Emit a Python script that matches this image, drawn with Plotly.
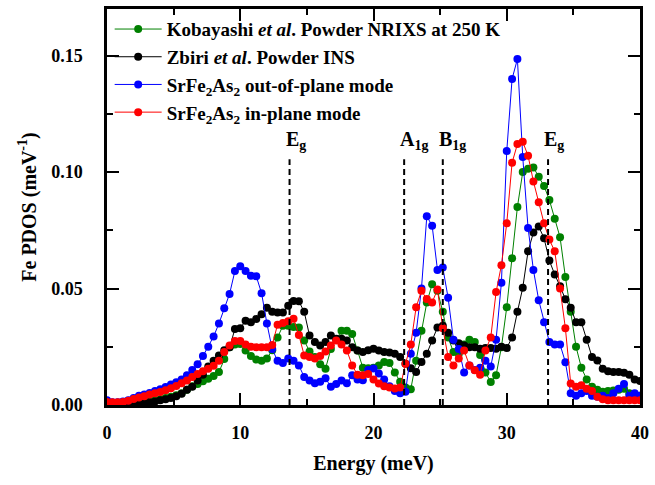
import plotly.graph_objects as go

# Energy grid (meV), 0.4 meV step, 0..40
energy = [round(0.4 * i, 1) for i in range(101)]

kobayashi_nrixs = [
    0.0005, 0.0005, 0.0005, 0.0006, 0.0008, 0.0010, 0.0012, 0.0015, 0.0018, 0.0020,
    0.0025, 0.0030, 0.0035, 0.0042, 0.0050, 0.0065, 0.0080, 0.0090, 0.0102, 0.0113,
    0.0125, 0.0142, 0.0198, 0.0248, 0.0260, 0.0262, 0.0234, 0.0210, 0.0195, 0.0190,
    0.0200, 0.0235, 0.0290, 0.0340, 0.0340, 0.0335, 0.0333, 0.0277, 0.0230, 0.0206,
    0.0175, 0.0156, 0.0240, 0.0280, 0.0319, 0.0319, 0.0305, 0.0234, 0.0160, 0.0158,
    0.0160, 0.0170, 0.0185, 0.0180, 0.0140, 0.0100, 0.0075, 0.0068, 0.0190, 0.0319,
    0.0440, 0.0518, 0.0490, 0.0400, 0.0290, 0.0227, 0.0220, 0.0260, 0.0280, 0.0270,
    0.0215, 0.0140, 0.0099, 0.0128, 0.0248, 0.0420, 0.0630, 0.0850, 0.1000, 0.1014,
    0.1020, 0.0980, 0.0940, 0.0880, 0.0800, 0.0720, 0.0550, 0.0400, 0.0250, 0.0160,
    0.0110, 0.0078, 0.0065, 0.0057, 0.0060, 0.0062, 0.0065, 0.0070, 0.0050, 0.0040,
    0.0040,
]

zbiri_ins = [
    0.0002, 0.0002, 0.0002, 0.0003, 0.0004, 0.0005, 0.0007, 0.0009, 0.0012, 0.0015,
    0.0020, 0.0025, 0.0030, 0.0038, 0.0048, 0.0065, 0.0078, 0.0105, 0.0130, 0.0165,
    0.0190, 0.0213, 0.0235, 0.0248, 0.0326, 0.0330, 0.0362, 0.0355, 0.0369, 0.0390,
    0.0418, 0.0400, 0.0397, 0.0397, 0.0426, 0.0447, 0.0445, 0.0400, 0.0298, 0.0270,
    0.0255, 0.0270, 0.0298, 0.0284, 0.0284, 0.0277, 0.0248, 0.0234, 0.0227, 0.0235,
    0.0241, 0.0234, 0.0228, 0.0225, 0.0220, 0.0206, 0.0177, 0.0158, 0.0142, 0.0185,
    0.0220, 0.0277, 0.0333, 0.0340, 0.0310, 0.0277, 0.0265, 0.0255, 0.0248, 0.0248,
    0.0242, 0.0245, 0.0245, 0.0241, 0.0250, 0.0245, 0.0290, 0.0400, 0.0503, 0.0660,
    0.0740, 0.0766, 0.0716, 0.0620, 0.0560, 0.0510, 0.0454, 0.0418, 0.0355, 0.0355,
    0.0280, 0.0206, 0.0191, 0.0156, 0.0145, 0.0142, 0.0142, 0.0138, 0.0130, 0.0110,
    0.0103,
]

out_of_plane = [
    0.0020, 0.0012, 0.0012, 0.0015, 0.0020, 0.0030, 0.0040, 0.0045, 0.0052, 0.0060,
    0.0068, 0.0077, 0.0088, 0.0098, 0.0110, 0.0128, 0.0150, 0.0175, 0.0210, 0.0250,
    0.0294, 0.0350, 0.0415, 0.0477, 0.0575, 0.0596, 0.0575, 0.0555, 0.0553, 0.0480,
    0.0350, 0.0240, 0.0190, 0.0180, 0.0200, 0.0190, 0.0170, 0.0120, 0.0105, 0.0093,
    0.0100, 0.0115, 0.0078, 0.0090, 0.0105, 0.0093, 0.0128, 0.0110, 0.0106, 0.0150,
    0.0157, 0.0135, 0.0110, 0.0080, 0.0060, 0.0050, 0.0057, 0.0220, 0.0310, 0.0500,
    0.0810, 0.0770, 0.0580, 0.0590, 0.0460, 0.0280, 0.0240, 0.0140, 0.0170, 0.0150,
    0.0160, 0.0190, 0.0165, 0.0280, 0.0525, 0.1090, 0.1400, 0.1485, 0.1065, 0.0760,
    0.0580, 0.0450, 0.0355, 0.0270, 0.0260, 0.0260, 0.0184, 0.0050, 0.0040, 0.0050,
    0.0060, 0.0040, 0.0035, 0.0040, 0.0030, 0.0050, 0.0070, 0.0090, 0.0040, 0.0050,
    0.0040,
]

in_plane = [
    0.0013, 0.0012, 0.0012, 0.0013, 0.0018, 0.0026, 0.0032, 0.0038, 0.0045, 0.0050,
    0.0056, 0.0063, 0.0072, 0.0082, 0.0093, 0.0105, 0.0120, 0.0133, 0.0145, 0.0156,
    0.0168, 0.0190, 0.0227, 0.0255, 0.0275, 0.0275, 0.0260, 0.0250, 0.0248, 0.0248,
    0.0248, 0.0258, 0.0345, 0.0352, 0.0360, 0.0370, 0.0300, 0.0213, 0.0206, 0.0200,
    0.0210, 0.0230, 0.0255, 0.0277, 0.0260, 0.0234, 0.0170, 0.0130, 0.0128, 0.0133,
    0.0110, 0.0092, 0.0080, 0.0075, 0.0071, 0.0075, 0.0177, 0.0260, 0.0420, 0.0490,
    0.0455, 0.0440, 0.0496, 0.0330, 0.0206, 0.0170, 0.0200, 0.0234, 0.0170, 0.0149,
    0.0130, 0.0234, 0.0290, 0.0485, 0.0600, 0.0780, 0.1040, 0.1120, 0.1130, 0.1070,
    0.0960, 0.0870, 0.0780, 0.0710, 0.0660, 0.0500, 0.0330, 0.0092, 0.0078, 0.0085,
    0.0070, 0.0060, 0.0035, 0.0025, 0.0020, 0.0020, 0.0020, 0.0020, 0.0020, 0.0020,
    0.0020,
]

series_names = [
    "<b>Kobayashi <i>et al</i>. Powder NRIXS at 250 K</b>",
    "<b>Zbiri <i>et al</i>. Powder INS</b>",
    "<b>SrFe<sub>2</sub>As<sub>2</sub> out-of-plane mode</b>",
    "<b>SrFe<sub>2</sub>As<sub>2</sub> in-plane mode</b>",
]
series_values = [kobayashi_nrixs, zbiri_ins, out_of_plane, in_plane]
series_colors = ["#008000", "#000000", "#0000ff", "#ff0000"]

mode_energies = [13.7, 22.3, 25.2, 33.1]
mode_labels = ["E<sub>g</sub>", "A<sub>1g</sub>", "B<sub>1g</sub>", "E<sub>g</sub>"]
mode_line_top = 0.1055

x_ticks = [0, 10, 20, 30, 40]
y_ticks = [0.00, 0.05, 0.10, 0.15]

FONT = "Times New Roman, Liberation Serif, serif"

fig = go.Figure()
for name, vals, col in zip(series_names, series_values, series_colors):
    fig.add_trace(go.Scatter(
        x=energy, y=vals, name=name, mode="lines+markers",
        line=dict(color=col, width=1),
        marker=dict(color=col, size=8, symbol="circle"),
    ))

for e, lab in zip(mode_energies, mode_labels):
    fig.add_shape(type="line", xref="x", yref="y", x0=e, x1=e, y0=0, y1=mode_line_top,
                  line=dict(color="black", width=2, dash="6px,4px"))
    fig.add_annotation(x=e, y=mode_line_top, xref="x", yref="y", text="<b>" + lab + "</b>",
                       showarrow=False, xanchor="left", yanchor="bottom", xshift=-6, yshift=4,
                       font=dict(family=FONT, size=20, color="black"))

fig.update_layout(
    width=655, height=485,
    margin=dict(l=107, r=12, t=6, b=80),
    paper_bgcolor="white", plot_bgcolor="white",
    font=dict(family=FONT, color="black"),
    showlegend=True,
    legend=dict(x=0.005, y=0.997, xanchor="left", yanchor="top",
                bgcolor="rgba(0,0,0,0)", font=dict(family=FONT, size=19, color="black"),
                itemwidth=47, tracegroupgap=0),
)

fig.update_xaxes(
    range=[0, 40], tickvals=x_ticks, ticktext=[str(v) for v in x_ticks],
    showline=True, linecolor="black", linewidth=2.5, mirror="ticks",
    ticks="inside", ticklen=12, tickwidth=2, tickcolor="black",
    minor=dict(dtick=5, ticks="inside", ticklen=6, tickwidth=2, tickcolor="black"),
    showgrid=False, zeroline=False,
    tickfont=dict(family=FONT, size=18, color="black", weight="bold"),
    ticklabelstandoff=10,
    title=dict(text="<b>Energy (meV)</b>", font=dict(family=FONT, size=20, color="black"), standoff=14),
)
fig.update_yaxes(
    range=[0, 0.17], tickvals=y_ticks, ticktext=["%.2f" % v for v in y_ticks],
    showline=True, linecolor="black", linewidth=2.5, mirror="ticks",
    ticks="inside", ticklen=12, tickwidth=2, tickcolor="black",
    minor=dict(dtick=0.025, ticks="inside", ticklen=6, tickwidth=2, tickcolor="black"),
    showgrid=False, zeroline=False,
    tickfont=dict(family=FONT, size=18, color="black", weight="bold"),
    ticklabelstandoff=18,
    title=dict(text="<b>Fe PDOS (meV<sup>-1</sup>)</b>", font=dict(family=FONT, size=20, color="black"), standoff=10),
)

fig.write_html("out.html")
